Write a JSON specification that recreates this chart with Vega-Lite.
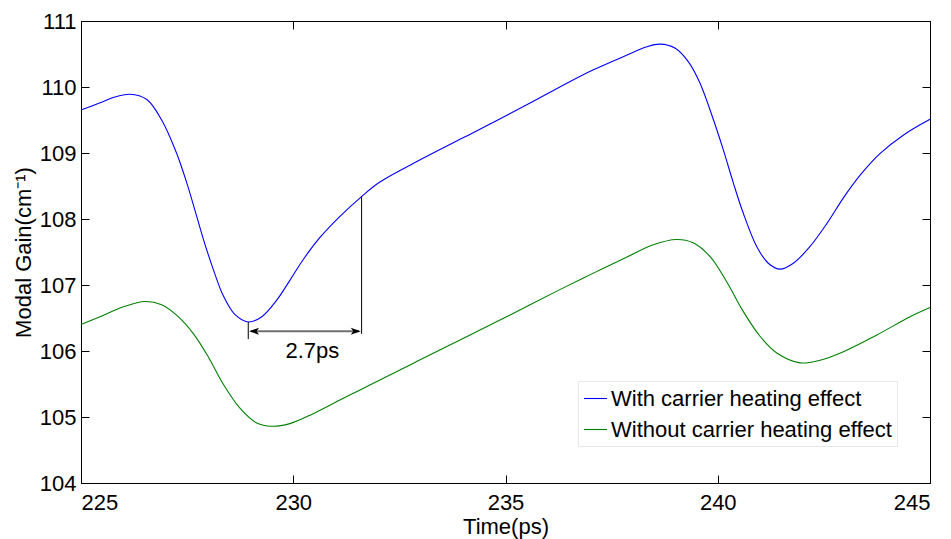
{
  "$schema": "https://vega.github.io/schema/vega-lite/v6.json",
  "width": 849,
  "height": 462,
  "autosize": {"type": "none"},
  "padding": {"left": 81, "top": 21, "right": 21, "bottom": 56},
  "background": "white",
  "config": {
    "view": {"stroke": "black", "strokeWidth": 1},
    "font": "Liberation Sans",
    "axis": {
      "domain": false,
      "grid": false,
      "tickColor": "black",
      "tickSize": -8,
      "tickWidth": 1,
      "labelFontSize": 22,
      "labelColor": "black",
      "labelFont": "Liberation Sans",
      "titleFontSize": 22,
      "titleFontWeight": "normal",
      "titleColor": "black",
      "titleFont": "Liberation Sans"
    }
  },
  "datasets": {
    "curves": [
      {"t": 225.0, "v": 109.65, "s": "With carrier heating effect"},
      {"t": 225.45, "v": 109.76, "s": "With carrier heating effect"},
      {"t": 225.76, "v": 109.84, "s": "With carrier heating effect"},
      {"t": 226.15, "v": 109.89, "s": "With carrier heating effect"},
      {"t": 226.55, "v": 109.81, "s": "With carrier heating effect"},
      {"t": 226.9, "v": 109.5, "s": "With carrier heating effect"},
      {"t": 227.25, "v": 109.0, "s": "With carrier heating effect"},
      {"t": 227.49, "v": 108.55, "s": "With carrier heating effect"},
      {"t": 227.69, "v": 108.12, "s": "With carrier heating effect"},
      {"t": 227.88, "v": 107.7, "s": "With carrier heating effect"},
      {"t": 228.12, "v": 107.23, "s": "With carrier heating effect"},
      {"t": 228.35, "v": 106.84, "s": "With carrier heating effect"},
      {"t": 228.63, "v": 106.55, "s": "With carrier heating effect"},
      {"t": 228.94, "v": 106.44, "s": "With carrier heating effect"},
      {"t": 229.26, "v": 106.52, "s": "With carrier heating effect"},
      {"t": 229.61, "v": 106.77, "s": "With carrier heating effect"},
      {"t": 229.92, "v": 107.07, "s": "With carrier heating effect"},
      {"t": 230.24, "v": 107.39, "s": "With carrier heating effect"},
      {"t": 230.63, "v": 107.72, "s": "With carrier heating effect"},
      {"t": 231.1, "v": 108.04, "s": "With carrier heating effect"},
      {"t": 231.61, "v": 108.34, "s": "With carrier heating effect"},
      {"t": 232.04, "v": 108.56, "s": "With carrier heating effect"},
      {"t": 233.0, "v": 108.9, "s": "With carrier heating effect"},
      {"t": 234.0, "v": 109.23, "s": "With carrier heating effect"},
      {"t": 235.0, "v": 109.56, "s": "With carrier heating effect"},
      {"t": 236.28, "v": 110.0, "s": "With carrier heating effect"},
      {"t": 237.07, "v": 110.26, "s": "With carrier heating effect"},
      {"t": 237.85, "v": 110.48, "s": "With carrier heating effect"},
      {"t": 238.33, "v": 110.61, "s": "With carrier heating effect"},
      {"t": 238.64, "v": 110.65, "s": "With carrier heating effect"},
      {"t": 238.99, "v": 110.59, "s": "With carrier heating effect"},
      {"t": 239.31, "v": 110.38, "s": "With carrier heating effect"},
      {"t": 239.58, "v": 110.06, "s": "With carrier heating effect"},
      {"t": 239.9, "v": 109.5, "s": "With carrier heating effect"},
      {"t": 240.13, "v": 109.05, "s": "With carrier heating effect"},
      {"t": 240.37, "v": 108.54, "s": "With carrier heating effect"},
      {"t": 240.6, "v": 108.09, "s": "With carrier heating effect"},
      {"t": 240.92, "v": 107.58, "s": "With carrier heating effect"},
      {"t": 241.19, "v": 107.33, "s": "With carrier heating effect"},
      {"t": 241.47, "v": 107.24, "s": "With carrier heating effect"},
      {"t": 241.78, "v": 107.33, "s": "With carrier heating effect"},
      {"t": 242.17, "v": 107.58, "s": "With carrier heating effect"},
      {"t": 242.57, "v": 107.93, "s": "With carrier heating effect"},
      {"t": 242.96, "v": 108.32, "s": "With carrier heating effect"},
      {"t": 243.35, "v": 108.66, "s": "With carrier heating effect"},
      {"t": 243.82, "v": 108.99, "s": "With carrier heating effect"},
      {"t": 244.37, "v": 109.27, "s": "With carrier heating effect"},
      {"t": 245.0, "v": 109.51, "s": "With carrier heating effect"},
      {"t": 225.0, "v": 106.4, "s": "Without carrier heating effect"},
      {"t": 225.45, "v": 106.52, "s": "Without carrier heating effect"},
      {"t": 226.0, "v": 106.67, "s": "Without carrier heating effect"},
      {"t": 226.51, "v": 106.75, "s": "Without carrier heating effect"},
      {"t": 226.9, "v": 106.7, "s": "Without carrier heating effect"},
      {"t": 227.29, "v": 106.52, "s": "Without carrier heating effect"},
      {"t": 227.65, "v": 106.26, "s": "Without carrier heating effect"},
      {"t": 228.0, "v": 105.91, "s": "Without carrier heating effect"},
      {"t": 228.35, "v": 105.5, "s": "Without carrier heating effect"},
      {"t": 228.75, "v": 105.13, "s": "Without carrier heating effect"},
      {"t": 229.14, "v": 104.91, "s": "Without carrier heating effect"},
      {"t": 229.49, "v": 104.86, "s": "Without carrier heating effect"},
      {"t": 229.92, "v": 104.9, "s": "Without carrier heating effect"},
      {"t": 230.47, "v": 105.05, "s": "Without carrier heating effect"},
      {"t": 231.26, "v": 105.31, "s": "Without carrier heating effect"},
      {"t": 232.04, "v": 105.56, "s": "Without carrier heating effect"},
      {"t": 233.0, "v": 105.87, "s": "Without carrier heating effect"},
      {"t": 234.0, "v": 106.19, "s": "Without carrier heating effect"},
      {"t": 235.0, "v": 106.51, "s": "Without carrier heating effect"},
      {"t": 236.28, "v": 106.93, "s": "Without carrier heating effect"},
      {"t": 237.07, "v": 107.18, "s": "Without carrier heating effect"},
      {"t": 237.85, "v": 107.42, "s": "Without carrier heating effect"},
      {"t": 238.48, "v": 107.61, "s": "Without carrier heating effect"},
      {"t": 239.03, "v": 107.69, "s": "Without carrier heating effect"},
      {"t": 239.42, "v": 107.64, "s": "Without carrier heating effect"},
      {"t": 239.82, "v": 107.43, "s": "Without carrier heating effect"},
      {"t": 240.21, "v": 107.05, "s": "Without carrier heating effect"},
      {"t": 240.6, "v": 106.6, "s": "Without carrier heating effect"},
      {"t": 241.0, "v": 106.22, "s": "Without carrier heating effect"},
      {"t": 241.39, "v": 105.97, "s": "Without carrier heating effect"},
      {"t": 241.94, "v": 105.82, "s": "Without carrier heating effect"},
      {"t": 242.41, "v": 105.86, "s": "Without carrier heating effect"},
      {"t": 242.96, "v": 105.99, "s": "Without carrier heating effect"},
      {"t": 243.74, "v": 106.24, "s": "Without carrier heating effect"},
      {"t": 244.53, "v": 106.52, "s": "Without carrier heating effect"},
      {"t": 245.0, "v": 106.66, "s": "Without carrier heating effect"}
    ],
    "vrules": [
      {"t": 231.61, "v": 108.34, "v2": 106.26},
      {"t": 228.94, "v": 106.44, "v2": 106.18}
    ],
    "hrule": [
      {"t": 229.0, "t2": 231.55, "v": 106.3}
    ],
    "heads": [
      {"t": 228.96, "v": 106.3, "dir": "L"},
      {"t": 231.59, "v": 106.3, "dir": "R"}
    ],
    "label": [
      {"t": 230.45, "v": 106.0, "text": "2.7ps"}
    ]
  },
  "layer": [
    {
      "data": {"name": "curves"},
      "mark": {"type": "line", "strokeWidth": 1.1, "interpolate": "catmull-rom"},
      "encoding": {
        "x": {"field": "t", "type": "quantitative",
              "scale": {"domain": [225, 245], "nice": false, "zero": false},
              "axis": {"values": [225, 230, 235, 240, 245], "title": "Time(ps)", "titlePadding": 3, "labelPadding": 17}},
        "y": {"field": "v", "type": "quantitative",
              "scale": {"domain": [104, 111], "nice": false, "zero": false},
              "axis": {"values": [104, 105, 106, 107, 108, 109, 110, 111], "title": "Modal Gain(cm⁻¹)", "titlePadding": 4, "labelPadding": 13}},
        "color": {"field": "s", "type": "nominal",
                  "scale": {"domain": ["With carrier heating effect", "Without carrier heating effect"], "range": ["#0000ff", "#008000"]},
                  "legend": {"title": null, "orient": "none", "legendX": 497, "legendY": 360,
                             "symbolType": "stroke", "symbolSize": 529, "symbolStrokeWidth": 1.1,
                             "labelFontSize": 22, "labelFont": "Liberation Sans", "labelColor": "black",
                             "labelOffset": 3, "labelLimit": 0, "fillColor": "white", "strokeColor": "#e6e6e6",
                             "padding": 5, "rowPadding": 7}}
      }
    },
    {
      "data": {"name": "vrules"},
      "mark": {"type": "rule", "color": "black", "strokeWidth": 1},
      "encoding": {
        "x": {"field": "t", "type": "quantitative", "scale": {"domain": [225, 245], "nice": false, "zero": false}, "axis": null},
        "y": {"field": "v", "type": "quantitative", "scale": {"domain": [104, 111], "nice": false, "zero": false}, "axis": null},
        "y2": {"field": "v2"}
      }
    },
    {
      "data": {"name": "hrule"},
      "mark": {"type": "rule", "color": "#707070", "strokeWidth": 2},
      "encoding": {
        "x": {"field": "t", "type": "quantitative", "scale": {"domain": [225, 245], "nice": false, "zero": false}, "axis": null},
        "x2": {"field": "t2"},
        "y": {"field": "v", "type": "quantitative", "scale": {"domain": [104, 111], "nice": false, "zero": false}, "axis": null}
      }
    },
    {
      "data": {"name": "heads"},
      "mark": {"type": "point", "filled": true, "color": "black", "size": 100, "opacity": 1},
      "encoding": {
        "x": {"field": "t", "type": "quantitative", "scale": {"domain": [225, 245], "nice": false, "zero": false}, "axis": null},
        "y": {"field": "v", "type": "quantitative", "scale": {"domain": [104, 111], "nice": false, "zero": false}, "axis": null},
        "shape": {"field": "dir", "type": "nominal",
                  "scale": {"domain": ["L", "R"], "range": ["M0,0L2,-0.7L1.5,0L2,0.7Z", "M0,0L-2,-0.7L-1.5,0L-2,0.7Z"]},
                  "legend": null}
      }
    },
    {
      "data": {"name": "label"},
      "mark": {"type": "text", "fontSize": 22, "font": "Liberation Sans", "color": "black", "align": "center", "baseline": "middle"},
      "encoding": {
        "x": {"field": "t", "type": "quantitative", "scale": {"domain": [225, 245], "nice": false, "zero": false},
              "axis": {"orient": "top", "values": [225, 230, 235, 240, 245], "labels": false, "title": null}},
        "y": {"field": "v", "type": "quantitative", "scale": {"domain": [104, 111], "nice": false, "zero": false},
              "axis": {"orient": "right", "values": [104, 105, 106, 107, 108, 109, 110, 111], "labels": false, "title": null}},
        "text": {"field": "text"}
      }
    }
  ],
  "resolve": {"axis": {"x": "independent", "y": "independent"}}
}
